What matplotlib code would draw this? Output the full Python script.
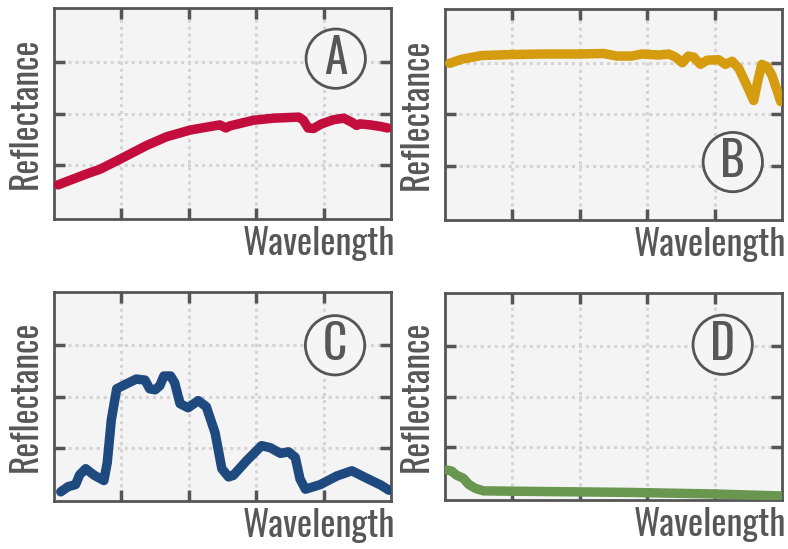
import numpy as np
import matplotlib
matplotlib.use("Agg")
import matplotlib.pyplot as plt
from matplotlib import font_manager as fm

# spectra (x: 0..5, y: 0..4)
a_x = [0.06, 0.48, 0.68, 1.03, 1.37, 1.67, 2.02, 2.46, 2.55, 2.61, 2.96, 3.26, 3.63, 3.70, 3.77,
       3.85, 3.97, 4.15, 4.30, 4.42, 4.49, 4.54, 4.69, 4.84, 4.95]
a_y = [0.62, 0.83, 0.92, 1.15, 1.38, 1.55, 1.68, 1.78, 1.72, 1.76, 1.87, 1.91, 1.93, 1.87, 1.72,
       1.71, 1.80, 1.88, 1.91, 1.83, 1.77, 1.80, 1.78, 1.75, 1.72]

b_x = [0.07, 0.25, 0.54, 0.99, 1.49, 1.98, 2.35, 2.55, 2.77, 2.92, 3.17, 3.32, 3.42, 3.52, 3.61,
       3.69, 3.79, 3.89, 4.06, 4.16, 4.26, 4.36, 4.50, 4.58, 4.65, 4.70, 4.78, 4.85, 4.93, 4.98]
b_y = [2.99, 3.07, 3.14, 3.16, 3.17, 3.17, 3.18, 3.13, 3.13, 3.17, 3.15, 3.17, 3.11, 3.00, 3.13,
       3.11, 2.97, 3.05, 3.06, 2.97, 3.03, 2.89, 2.50, 2.27, 2.70, 2.97, 2.92, 2.76, 2.45, 2.25]

c_x = [0.10, 0.21, 0.32, 0.38, 0.47, 0.60, 0.74, 0.79, 0.85, 0.93, 1.08, 1.22, 1.35, 1.42, 1.50,
       1.57, 1.63, 1.73, 1.79, 1.87, 1.99, 2.14, 2.26, 2.39, 2.49, 2.59, 2.66, 2.86, 3.08, 3.21,
       3.36, 3.48, 3.58, 3.65, 3.73, 3.95, 4.20, 4.42, 4.60, 4.85, 4.97]
c_y = [0.14, 0.24, 0.28, 0.47, 0.59, 0.46, 0.36, 0.71, 1.54, 2.15, 2.25, 2.34, 2.32, 2.15, 2.13,
       2.21, 2.40, 2.40, 2.27, 1.86, 1.78, 1.92, 1.80, 1.29, 0.59, 0.43, 0.46, 0.75, 1.04, 1.00,
       0.89, 0.92, 0.81, 0.39, 0.19, 0.28, 0.45, 0.55, 0.43, 0.27, 0.17]

d_x = [0.03, 0.10, 0.17, 0.27, 0.35, 0.45, 0.57, 1.24, 2.72, 3.96, 4.98]
d_y = [0.55, 0.53, 0.45, 0.39, 0.27, 0.19, 0.14, 0.13, 0.11, 0.08, 0.04]

panels = [
    ("A", a_x, a_y, "#c30d3c", (4.18, 3.06)),
    ("B", b_x, b_y, "#d49c0e", (4.27, 1.08)),
    ("C", c_x, c_y, "#1f4a80", (4.17, 3.0)),
    ("D", d_x, d_y, "#6a974f", (4.12, 3.02)),
]

# pick a condensed face if one is installed
names = {f.name for f in fm.fontManager.ttflist}
font = "DejaVu Sans"
for cand in ["Oswald", "Roboto Condensed", "Liberation Sans Narrow", "Open Sans Condensed"]:
    if cand in names:
        font = cand
        break
plt.rcParams["font.family"] = [font, "DejaVu Sans"]

W, H = 788, 549
fig = plt.figure(figsize=(W / 100, H / 100), dpi=100)

boxes = [(54, 391, 8, 219), (445, 782, 9, 220), (54, 391, 292, 501), (445, 782, 293, 500)]
txt = "#575757"
bg = "#f4f4f4"

for (letter, xs, ys, col, (cx, cy)), (x0, x1, t, b) in zip(panels, boxes):
    ax = fig.add_axes([x0 / W, 1 - b / H, (x1 - x0) / W, (b - t) / H])
    ax.set_facecolor(bg)
    ax.plot(xs, ys, color=col, lw=6.8, solid_capstyle="round", solid_joinstyle="round", zorder=3)
    ax.set_xlim(0, 5)
    ax.set_ylim(-0.04, 4.04)
    ax.set_xticks([1, 2, 3, 4])
    ax.set_yticks([1, 2, 3])
    ax.grid(True, color="#d4d4d4", lw=2.2, ls=(0, (1.0, 1.3)))
    ax.set_axisbelow(True)
    ax.tick_params(direction="in", length=8, width=2.5, color="#555555", top=True, right=True,
                   labelbottom=False, labelleft=False)
    for s in ax.spines.values():
        s.set_color("#555555")
        s.set_linewidth(2)
    ax.text(-0.083, 0.5, "Reflectance", rotation=90, ha="center", va="center",
            transform=ax.transAxes, fontsize=25.5, color=txt)
    ax.text(1.013, -0.172, "Wavelength", ha="right", va="baseline",
            transform=ax.transAxes, fontsize=26, color=txt)
    ax.text(cx, cy, letter, ha="center", va="center", fontsize=34, color=txt, zorder=5,
            bbox=dict(boxstyle="circle,pad=0.12", fc="#f5f5f5", ec="#555555", lw=2))

fig.savefig("out.png", dpi=100)
